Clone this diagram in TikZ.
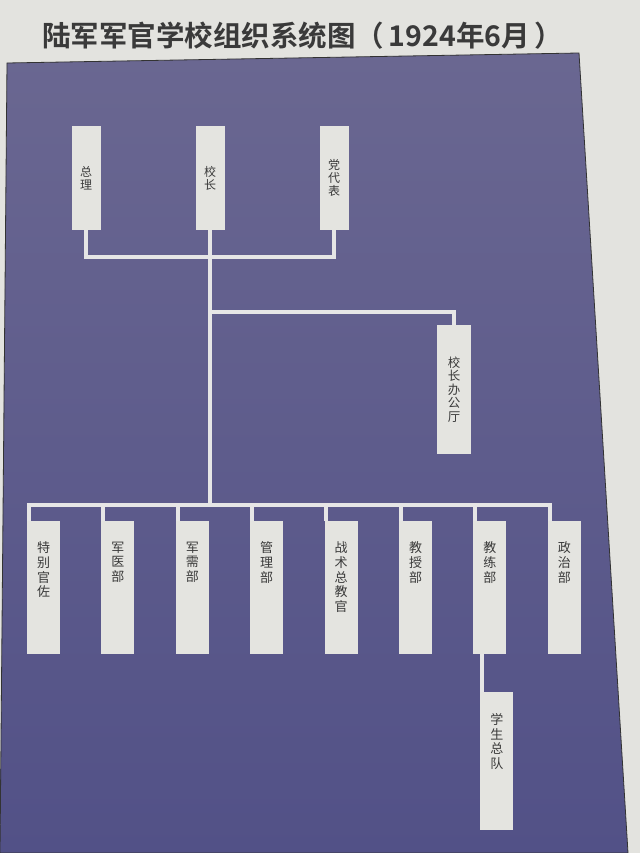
\documentclass[tikz,border=0pt]{standalone}
\usepackage{fontspec}
\usepackage{xcolor}
\usetikzlibrary{calc,positioning}
\newfontfamily\cjk{Noto Sans CJK SC}[BoldFont={Noto Sans CJK SC Bold}]
\definecolor{bgc}{HTML}{E3E3DF}
\definecolor{paneltop}{HTML}{6A6791}
\definecolor{panelbot}{HTML}{525187}
\definecolor{cardc}{HTML}{E4E4E0}
\definecolor{wirec}{HTML}{E6E6E6}
\definecolor{inkc}{HTML}{3A3A3A}

\begin{document}
\begin{tikzpicture}[x=1pt, y=-1pt]
\tikzstyle{card}=[fill=cardc, inner sep=0pt, text=inkc, align=center]
\tikzstyle{topcard}=[card, minimum width=29, minimum height=104, node distance=124pt, font=\cjk\fontsize{12}{13}\selectfont]
\tikzstyle{subcard}=[card, minimum width=33, minimum height=133, node distance=74.4pt]
\tikzstyle{lbl}=[anchor=north, yshift=-21pt, inner sep=0pt, align=center, text=inkc, font=\cjk\fontsize{13}{14.6}\selectfont]
\tikzstyle{wire}=[draw=wirec, line width=4pt]

\useasboundingbox (0,0) rectangle (640,853);
\fill[bgc] (0,0) rectangle (640,853);
\shade[top color=paneltop, bottom color=panelbot, draw=black!80, line width=0.8pt] (7,63) -- (579,53) -- (628,853) -- (0,853) -- cycle;

\node[anchor=west, inner sep=0pt, text=inkc, font=\cjk\bfseries\fontsize{28.5}{31}\selectfont] (title) at (42,36) {陆军军官学校组织系统图（\,1924年6月\,）};

% top row
\node[topcard] (zl) at (86,178) {总\\理};
\node[topcard, right of=zl] (xz) {校\\长};
\node[topcard, right of=xz] (ddb) {党\\代\\表};
\node[card, minimum width=34, minimum height=129, font=\cjk\fontsize{12.5}{13.6}\selectfont] (bgt) at (454,389.5) {校\\长\\办\\公\\厅};

% bottom row
\node[subcard, label={[lbl]north:特\\别\\官\\佐}] (tb) at (43.5,587.5) {};
\node[subcard, right of=tb, label={[lbl]north:军\\医\\部}] (jy) {};
\node[subcard, right of=jy, label={[lbl]north:军\\需\\部}] (jx) {};
\node[subcard, right of=jx, label={[lbl]north:管\\理\\部}] (gl) {};
\node[subcard, right of=gl, label={[lbl]north:战\\术\\总\\教\\官}] (zs) {};
\node[subcard, right of=zs, label={[lbl]north:教\\授\\部}] (js) {};
\node[subcard, right of=js, label={[lbl]north:教\\练\\部}] (jl) {};
\node[subcard, right of=jl, label={[lbl]north:政\\治\\部}] (zz) {};
\node[subcard, minimum height=138, below=38pt of jl, xshift=7, label={[lbl]north:学\\生\\总\\队}] (xs) {};

\coordinate (hub) at ($(xz.south)+(0,27)$);
\coordinate (fork) at ($(xz.south)+(0,82)$);
\coordinate (bus) at ($(xz.south)+(0,275)$);

\draw[wire] (zl.south) |- (hub) -| (ddb.south);
\draw[wire] (xz.south) -- (bus);
\draw[wire] (fork) -| (bgt.north);
\foreach \n in {tb,jy,jx,gl,zs,js,jl,zz}
  \draw[wire] ($(\n.north west)+(2,0)$) |- (bus);
\draw[wire] ($(xs.north west)+(2,0)$) -- ($(jl.south -| xs.north west)+(2,0)$);
\end{tikzpicture}
\end{document}
